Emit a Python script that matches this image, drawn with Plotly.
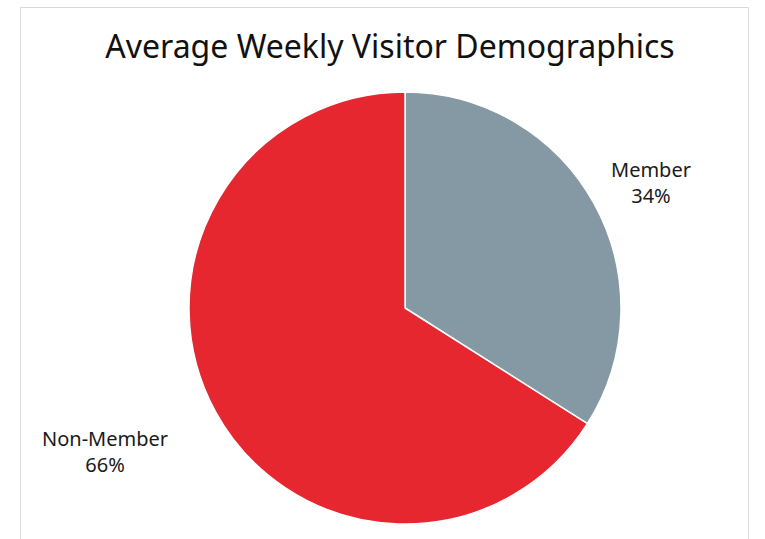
import plotly.graph_objects as go

labels = ["Member", "Non-Member"]
values = [34, 66]
colors = ["#8599A4", "#E6272F"]

W, H = 765, 539

fig = go.Figure()

fig.add_trace(go.Pie(
    labels=labels,
    values=values,
    sort=False,
    direction="clockwise",
    rotation=0,
    marker=dict(colors=colors, line=dict(color="white", width=1.5)),
    textinfo="none",
    hoverinfo="label+percent",
    showlegend=False,
    domain=dict(x=[189 / W, 621 / W], y=[(H - 524) / H, (H - 92) / H]),
))

# outside labels, placed like the original chart
label_pos = {"Member": (651, 182), "Non-Member": (105, 451)}
total = sum(values)
for lab, val in zip(labels, values):
    px, py = label_pos[lab]
    fig.add_annotation(
        x=px / W, y=(H - py) / H, xref="paper", yref="paper",
        xanchor="center", yanchor="middle",
        text=f"{lab}<br>{round(100 * val / total)}%",
        showarrow=False, align="center",
        font=dict(family="Noto Sans", size=20, color="#1a1a1a"),
    )

# light chart-area border
fig.add_shape(type="rect", xref="paper", yref="paper",
              x0=20.5 / W, x1=748.5 / W, y0=-0.05, y1=(H - 7.5) / H,
              line=dict(color="#D9D9D9", width=1), layer="below")

fig.update_layout(
    title=dict(text="Average Weekly Visitor Demographics",
               x=390 / W, xanchor="center", y=1 - 47 / H, yanchor="middle",
               font=dict(family="Noto Sans", size=32, color="#111111")),
    width=W, height=H,
    margin=dict(l=0, r=0, t=0, b=0),
    paper_bgcolor="white",
    plot_bgcolor="white",
)

fig.write_html("out.html", config={"displayModeBar": False},
               post_script="document.body.style.margin='0px';")
